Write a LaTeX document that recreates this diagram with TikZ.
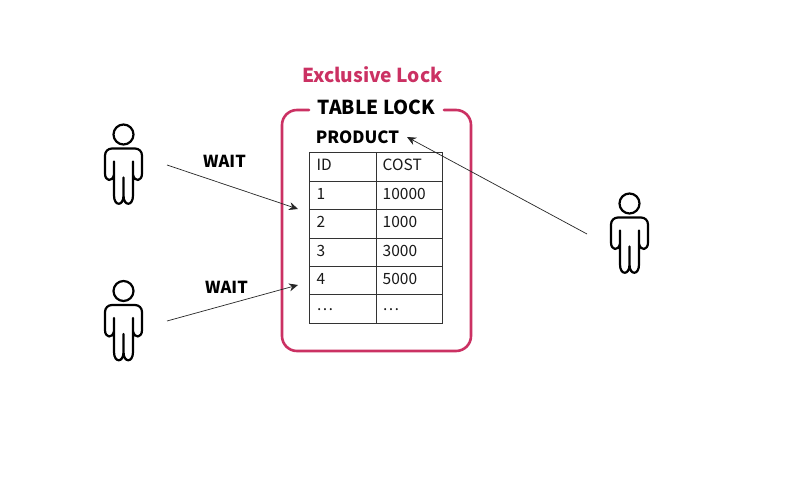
\documentclass[tikz,border=0pt]{standalone}
\usepackage{fontspec}
\setmainfont{Noto Sans CJK KR}
\usetikzlibrary{arrows.meta}
\definecolor{lockred}{HTML}{CB3163}
\tikzset{
  persona/.pic={
    \draw[line width=2.2pt,line cap=round,line join=round,black]
      (0,0) circle (10)
      (-9.5,27) -- (-9.5,61) .. controls (-9.5,72) and (0,72) .. (0,61) -- (0,43)
      (0,61) .. controls (0,72) and (9.5,72) .. (9.5,61) -- (9.5,27)
      (-9.5,40) .. controls (-11,48) and (-18.5,47) .. (-18.5,39) -- (-18.5,21)
        .. controls (-18.5,17) and (-15.5,14) .. (-11.5,14) -- (11.5,14)
        .. controls (15.5,14) and (18.5,17) .. (18.5,21) -- (18.5,39)
        .. controls (18.5,47) and (11,48) .. (9.5,40);
  },
  boldlabel/.style={font=\bfseries\fontsize{19.2}{22}\selectfont,inner sep=0pt,anchor=base},
  waitlabel/.style={font=\bfseries\fontsize{16.5}{18}\selectfont,inner sep=0pt,anchor=base},
  cell/.style={font=\fontsize{15.5}{16}\selectfont,inner sep=0pt,anchor=base west,text=black!90},
  grid line/.style={line width=0.9pt,draw=black!80},
  flow/.style={line width=0.7pt,draw=black!85,-{Stealth[length=9pt,width=8pt]}},
}
\begin{document}
\begin{tikzpicture}[x=1pt,y=-1pt]
\useasboundingbox (0,0) rectangle (802,489);
\fill[white] (0,0) rectangle (802,489);
% frame
\draw[lockred,line width=2.6pt,line cap=round]
  (309,110) -- (297,110) arc[start angle=90,end angle=180,radius=15,y radius=-15]
  -- (282,336) arc[start angle=180,end angle=270,radius=15,y radius=-15]
  -- (456,351) arc[start angle=270,end angle=360,radius=15,y radius=-15]
  -- (471,125) arc[start angle=0,end angle=90,radius=15,y radius=-15] -- (444,110);
\node[boldlabel,text=lockred] (excl) at (372.5,83) {Exclusive Lock};
\node[boldlabel] (tlock) at (376.5,115) {TABLE LOCK};
\node[boldlabel,font=\bfseries\fontsize{16.8}{20}\selectfont] (prod) at (357.5,143.5) {PRODUCT};
% table
\draw[grid line] (309,152.5) rectangle (442,323);
\foreach \y in {181,209.5,238,266.5,294.5} \draw[grid line] (309,\y) -- (442,\y);
\draw[grid line] (376,152.5) -- (376,323);
\foreach \i/\y/\a/\b in {1/170.5/ID/COST,2/199/1/10000,3/227.5/2/1000,4/256/3/3000,5/284/4/5000,6/310/…/…}{
  \node[cell] (a\i) at (316.5,\y) {\a};
  \node[cell] (b\i) at (382.5,\y) {\b};
}
% people
\pic at (123.5,134.5) {persona};
\pic at (123.5,291) {persona};
\pic at (629.5,203.5) {persona};
% labels
\node[waitlabel] (w1) at (224.5,167.5) {WAIT};
\node[waitlabel] (w2) at (226.5,293) {WAIT};
% connectors
\coordinate (p1) at (167,165);
\coordinate (p2) at (167,321);
\coordinate (p3) at (587,234);
\coordinate (t1) at (298,209);
\coordinate (t2) at (298,285);
\coordinate (t3) at (407,137);
\draw[flow] (p1) -- (t1);
\draw[flow] (p2) -- (t2);
\draw[flow] (p3) -- (t3);
\end{tikzpicture}
\end{document}
